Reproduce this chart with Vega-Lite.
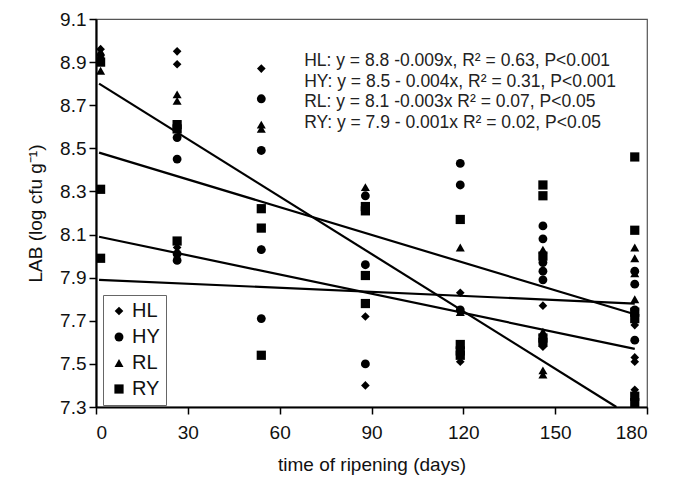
{
  "$schema": "https://vega.github.io/schema/vega-lite/v6.json",
  "width": 551,
  "height": 388,
  "autosize": "none",
  "padding": {"left": 96, "top": 19, "right": 30, "bottom": 77},
  "background": "white",
  "config": {
    "font": "Liberation Sans",
    "view": {"stroke": "#555", "strokeWidth": 1.2},
    "axis": {
      "domainColor": "black", "domainWidth": 2.2, "tickColor": "black", "tickWidth": 1.5, "tickSize": 7,
      "labelColor": "#111", "titleColor": "#111", "labelFontSize": 19, "titleFontSize": 19,
      "titleFontWeight": "normal", "grid": false, "labelFont": "Liberation Sans", "titleFont": "Liberation Sans"
    },
    "legend": {
      "strokeColor": "#666", "padding": 6, "labelFontSize": 20, "labelFont": "Liberation Sans",
      "labelColor": "#111", "rowPadding": 6, "symbolFillColor": "black", "symbolStrokeColor": "black",
      "symbolStrokeWidth": 0, "labelOffset": 3, "fillColor": "white"
    }
  },
  "datasets": {
    "pts": [
      {"day": 1.5, "series": "HL", "lab": 8.96}, {"day": 1.5, "series": "HL", "lab": 8.93},
      {"day": 1.5, "series": "HY", "lab": 8.91},
      {"day": 1.5, "series": "RL", "lab": 8.95}, {"day": 1.5, "series": "RL", "lab": 8.86},
      {"day": 1.5, "series": "RY", "lab": 8.90}, {"day": 1.5, "series": "RY", "lab": 8.31}, {"day": 1.5, "series": "RY", "lab": 7.99},

      {"day": 26.5, "series": "HL", "lab": 8.95}, {"day": 26.5, "series": "HL", "lab": 8.89}, {"day": 26.5, "series": "HL", "lab": 8.04},
      {"day": 26.5, "series": "HY", "lab": 8.55}, {"day": 26.5, "series": "HY", "lab": 8.45}, {"day": 26.5, "series": "HY", "lab": 8.01}, {"day": 26.5, "series": "HY", "lab": 7.98},
      {"day": 26.5, "series": "RL", "lab": 8.75}, {"day": 26.5, "series": "RL", "lab": 8.72},
      {"day": 26.5, "series": "RY", "lab": 8.61}, {"day": 26.5, "series": "RY", "lab": 8.59}, {"day": 26.5, "series": "RY", "lab": 8.07},

      {"day": 54, "series": "HL", "lab": 8.87}, {"day": 54, "series": "HL", "lab": 8.03},
      {"day": 54, "series": "HY", "lab": 8.73}, {"day": 54, "series": "HY", "lab": 8.49}, {"day": 54, "series": "HY", "lab": 8.03}, {"day": 54, "series": "HY", "lab": 7.71},
      {"day": 54, "series": "RL", "lab": 8.61}, {"day": 54, "series": "RL", "lab": 8.59},
      {"day": 54, "series": "RY", "lab": 8.22}, {"day": 54, "series": "RY", "lab": 8.13}, {"day": 54, "series": "RY", "lab": 7.54},

      {"day": 88, "series": "HL", "lab": 7.72}, {"day": 88, "series": "HL", "lab": 7.40},
      {"day": 88, "series": "HY", "lab": 8.28}, {"day": 88, "series": "HY", "lab": 7.96}, {"day": 88, "series": "HY", "lab": 7.50},
      {"day": 88, "series": "RL", "lab": 8.32},
      {"day": 88, "series": "RY", "lab": 8.23}, {"day": 88, "series": "RY", "lab": 8.21}, {"day": 88, "series": "RY", "lab": 7.91}, {"day": 88, "series": "RY", "lab": 7.78},

      {"day": 119, "series": "HL", "lab": 7.83}, {"day": 119, "series": "HL", "lab": 7.51},
      {"day": 119, "series": "HY", "lab": 8.43}, {"day": 119, "series": "HY", "lab": 8.33}, {"day": 119, "series": "HY", "lab": 7.75},
      {"day": 119, "series": "RL", "lab": 8.04}, {"day": 119, "series": "RL", "lab": 7.74},
      {"day": 119, "series": "RY", "lab": 8.17}, {"day": 119, "series": "RY", "lab": 7.59}, {"day": 119, "series": "RY", "lab": 7.56}, {"day": 119, "series": "RY", "lab": 7.54},

      {"day": 146, "series": "HL", "lab": 7.77}, {"day": 146, "series": "HL", "lab": 7.58},
      {"day": 146, "series": "HY", "lab": 8.14}, {"day": 146, "series": "HY", "lab": 8.08}, {"day": 146, "series": "HY", "lab": 7.97}, {"day": 146, "series": "HY", "lab": 7.93}, {"day": 146, "series": "HY", "lab": 7.89},
      {"day": 146, "series": "RL", "lab": 8.03}, {"day": 146, "series": "RL", "lab": 7.65}, {"day": 146, "series": "RL", "lab": 7.47}, {"day": 146, "series": "RL", "lab": 7.45},
      {"day": 146, "series": "RY", "lab": 8.33}, {"day": 146, "series": "RY", "lab": 8.28}, {"day": 146, "series": "RY", "lab": 8.00}, {"day": 146, "series": "RY", "lab": 7.62}, {"day": 146, "series": "RY", "lab": 7.60},

      {"day": 176, "series": "HL", "lab": 7.68}, {"day": 176, "series": "HL", "lab": 7.53}, {"day": 176, "series": "HL", "lab": 7.51}, {"day": 176, "series": "HL", "lab": 7.38},
      {"day": 176, "series": "HY", "lab": 7.93}, {"day": 176, "series": "HY", "lab": 7.87}, {"day": 176, "series": "HY", "lab": 7.75}, {"day": 176, "series": "HY", "lab": 7.61},
      {"day": 176, "series": "RL", "lab": 8.04}, {"day": 176, "series": "RL", "lab": 7.99}, {"day": 176, "series": "RL", "lab": 7.92}, {"day": 176, "series": "RL", "lab": 7.80},
      {"day": 176, "series": "RY", "lab": 8.46}, {"day": 176, "series": "RY", "lab": 8.12}, {"day": 176, "series": "RY", "lab": 7.74}, {"day": 176, "series": "RY", "lab": 7.71}, {"day": 176, "series": "RY", "lab": 7.35}, {"day": 176, "series": "RY", "lab": 7.32}
    ],
    "fits": [
      {"series": "HL", "day": 1, "lab": 8.80}, {"series": "HL", "day": 170, "lab": 7.30},
      {"series": "HY", "day": 1, "lab": 8.48}, {"series": "HY", "day": 176, "lab": 7.73},
      {"series": "RL", "day": 1, "lab": 8.09}, {"series": "RL", "day": 176, "lab": 7.57},
      {"series": "RY", "day": 1, "lab": 7.89}, {"series": "RY", "day": 176, "lab": 7.78}
    ],
    "notes": [
      {"day": 68, "lab": 8.882, "text": "HL: y = 8.8 -0.009x, R² = 0.63, P<0.001"},
      {"day": 68, "lab": 8.786, "text": "HY: y = 8.5 - 0.004x, R² = 0.31, P<0.001"},
      {"day": 68, "lab": 8.691, "text": "RL: y = 8.1 -0.003x R² = 0.07, P<0.05"},
      {"day": 68, "lab": 8.596, "text": "RY: y = 7.9 - 0.001x R² = 0.02, P<0.05"}
    ]
  },
  "layer": [
    {
      "data": {"name": "fits"},
      "mark": {"type": "line", "color": "black", "strokeWidth": 2.2},
      "encoding": {
        "x": {"field": "day", "type": "quantitative", "scale": {"domain": [0, 180], "nice": false, "zero": false},
              "axis": {"values": [0, 30, 60, 90, 120, 150, 180], "title": "time of ripening (days)", "labelPadding": 9, "titlePadding": 13}},
        "y": {"field": "lab", "type": "quantitative", "scale": {"domain": [7.3, 9.1], "nice": false, "zero": false},
              "axis": {"values": [7.3, 7.5, 7.7, 7.9, 8.1, 8.3, 8.5, 8.7, 8.9, 9.1], "format": ".1f", "title": "LAB (log cfu g⁻¹)", "labelPadding": 3, "titlePadding": 14}},
        "detail": {"field": "series", "type": "nominal"}
      }
    },
    {
      "data": {"name": "pts"},
      "mark": {"type": "point", "filled": true, "opacity": 1, "color": "black", "clip": false},
      "encoding": {
        "x": {"field": "day", "type": "quantitative"},
        "y": {"field": "lab", "type": "quantitative"},
        "shape": {"field": "series", "type": "nominal",
                  "scale": {"domain": ["HL", "HY", "RL", "RY"], "range": ["diamond", "circle", "triangle-up", "square"]},
                  "legend": {"title": null, "orient": "none", "legendX": 7, "legendY": 276}},
        "size": {"field": "series", "type": "nominal",
                 "scale": {"domain": ["HL", "HY", "RL", "RY"], "range": [75, 85, 115, 170]},
                 "legend": {"title": null, "orient": "none", "legendX": 7, "legendY": 276}}
      }
    },
    {
      "data": {"name": "notes"},
      "mark": {"type": "text", "align": "left", "baseline": "alphabetic", "fontSize": 17.5, "font": "Liberation Sans", "color": "#222"},
      "encoding": {
        "x": {"field": "day", "type": "quantitative"},
        "y": {"field": "lab", "type": "quantitative"},
        "text": {"field": "text", "type": "nominal"}
      }
    }
  ]
}
